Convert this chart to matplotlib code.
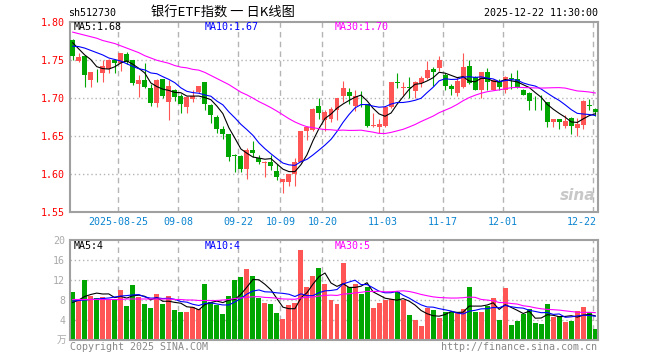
import numpy as np
import pandas as pd
import matplotlib
matplotlib.use('Agg')
import matplotlib.pyplot as plt

# 日K数据 (2025-08-13 .. 2025-12-22)
opens = [1.776, 1.748, 1.754, 1.723, 1.734, 1.7325, 1.738, 1.750, 1.745, 1.757,
         1.750, 1.718, 1.723, 1.713, 1.693, 1.724, 1.694, 1.7105, 1.7017, 1.687,
         1.6986, 1.7074, 1.720, 1.690, 1.675, 1.659, 1.652, 1.6237, 1.623, 1.606,
         1.631, 1.621, 1.614, 1.615, 1.6035, 1.589, 1.589, 1.599, 1.615, 1.6557,
         1.657, 1.689, 1.670, 1.672, 1.683, 1.702, 1.7075, 1.689, 1.6996, 1.691,
         1.6627, 1.6614, 1.6627, 1.687, 1.720, 1.7126, 1.7135, 1.708, 1.7195, 1.7255,
         1.737, 1.739, 1.7294, 1.7149, 1.7053, 1.714, 1.7412, 1.7272, 1.7105, 1.7338,
         1.7105, 1.7215, 1.7105, 1.7263, 1.725, 1.7105, 1.7061, 1.6945, 1.6945, 1.6943,
         1.668, 1.6715, 1.6627, 1.6724, 1.6601, 1.6636, 1.6904, 1.6846]
highs = [1.777, 1.758, 1.755, 1.734, 1.737, 1.750, 1.751, 1.751, 1.759, 1.760,
         1.750, 1.729, 1.745, 1.718, 1.724, 1.724, 1.723, 1.711, 1.704, 1.702,
         1.7105, 1.715, 1.720, 1.691, 1.677, 1.662, 1.652, 1.6263, 1.625, 1.634,
         1.643, 1.625, 1.616, 1.624, 1.612, 1.593, 1.600, 1.621, 1.656, 1.663,
         1.686, 1.700, 1.683, 1.687, 1.700, 1.722, 1.713, 1.710, 1.709, 1.691,
         1.680, 1.672, 1.687, 1.7206, 1.7316, 1.7206, 1.7272, 1.7215, 1.728, 1.748,
         1.740, 1.755, 1.7316, 1.7184, 1.7272, 1.7588, 1.750, 1.7285, 1.7338, 1.739,
         1.7237, 1.725, 1.7285, 1.7316, 1.736, 1.7118, 1.7075, 1.7018, 1.703, 1.6943,
         1.6715, 1.6715, 1.6768, 1.6737, 1.6733, 1.6965, 1.6978, 1.6864]
lows = [1.750, 1.747, 1.714, 1.714, 1.720, 1.720, 1.732, 1.732, 1.735, 1.744,
        1.716, 1.701, 1.712, 1.689, 1.688, 1.699, 1.670, 1.696, 1.680, 1.680,
        1.694, 1.706, 1.684, 1.666, 1.653, 1.646, 1.616, 1.602, 1.602, 1.593,
        1.622, 1.612, 1.596, 1.604, 1.592, 1.574, 1.584, 1.583, 1.615, 1.644,
        1.6557, 1.672, 1.6557, 1.668, 1.670, 1.6935, 1.692, 1.6824, 1.688, 1.661,
        1.6614, 1.653, 1.6614, 1.6865, 1.7119, 1.7036, 1.700, 1.700, 1.714, 1.7237,
        1.715, 1.735, 1.7096, 1.703, 1.7022, 1.713, 1.7184, 1.7096, 1.6987, 1.7096,
        1.7096, 1.7096, 1.7061, 1.7118, 1.713, 1.703, 1.6833, 1.6833, 1.6833, 1.6614,
        1.6614, 1.6579, 1.6605, 1.6526, 1.650, 1.6579, 1.6833, 1.6754]
closes = [1.754, 1.753, 1.730, 1.733, 1.733, 1.741, 1.750, 1.745, 1.758, 1.747,
          1.719, 1.723, 1.714, 1.693, 1.723, 1.702, 1.7145, 1.701, 1.691, 1.701,
          1.7017, 1.7149, 1.691, 1.677, 1.659, 1.652, 1.622, 1.6224, 1.606, 1.631,
          1.627, 1.615, 1.615, 1.610, 1.596, 1.5925, 1.599, 1.615, 1.6557, 1.661,
          1.685, 1.679, 1.681, 1.685, 1.6995, 1.7127, 1.702, 1.7026, 1.6990, 1.662,
          1.664, 1.6645, 1.687, 1.7206, 1.7195, 1.7132, 1.713, 1.7206, 1.7255, 1.7368,
          1.734, 1.749, 1.7149, 1.711, 1.7219, 1.7404, 1.7197, 1.7105, 1.7338, 1.7206,
          1.7228, 1.714, 1.7272, 1.725, 1.714, 1.7039, 1.6956, 1.6940, 1.6938, 1.668,
          1.6715, 1.668, 1.6689, 1.6627, 1.6649, 1.6952, 1.6890, 1.6811]
# 成交量 (万)
volumes = [9.6, 8.0, 12.0, 8.8, 8.5, 8.7, 8.1, 8.3, 10.0, 6.8,
           11.0, 8.7, 7.2, 6.4, 9.2, 7.2, 8.8, 6.0, 5.6, 5.6,
           6.7, 6.3, 11.2, 7.7, 7.0, 5.2, 8.8, 12.0, 12.7, 14.2,
           12.8, 8.5, 7.5, 7.2, 5.4, 4.2, 7.0, 7.5, 18.0, 10.6,
           12.8, 14.4, 11.2, 8.0, 7.2, 15.5, 10.7, 11.2, 9.2, 10.7,
           6.4, 7.5, 8.0, 8.2, 9.7, 8.0, 5.0, 4.0, 2.8, 6.5,
           6.0, 4.5, 5.7, 5.7, 5.7, 6.2, 10.6, 5.7, 5.7, 6.8,
           8.4, 4.0, 10.4, 3.0, 3.9, 5.2, 6.3, 3.4, 3.2, 7.2,
           4.6, 4.9, 3.7, 3.9, 5.8, 6.6, 5.6, 2.2]

# 均线开头部分(窗口外的历史数据)
ma5_head = [1.772, 1.764, 1.756, 1.750]
ma10_head = [1.7675, 1.767, 1.765, 1.762, 1.759, 1.756, 1.752, 1.750, 1.748]
ma30_head = [1.786, 1.784, 1.782, 1.780, 1.778, 1.775, 1.773, 1.771, 1.768, 1.765,
             1.762, 1.759, 1.755, 1.752, 1.749, 1.747, 1.745, 1.742, 1.740, 1.739,
             1.737, 1.736, 1.733, 1.729, 1.725, 1.721, 1.717, 1.712, 1.707]
vma5_head = [7.5, 8.0, 8.7, 9.1]
vma10_head = [7.8, 7.9, 8.0, 8.1, 8.2, 8.3, 8.4, 8.6, 8.8]
vma30_head = [8.1, 8.1, 8.1, 8.1, 8.1, 8.1, 8.1, 8.1, 8.1, 8.2,
              8.2, 8.2, 8.2, 8.2, 8.2, 8.2, 8.2, 8.1, 8.1, 8.0,
              8.0, 7.9, 7.9, 7.9, 7.9, 8.0, 8.1, 8.3, 8.4]

date_idx = [8, 18, 28, 35, 42, 52, 62, 72, 87]
date_labels = ['2025-08-25', '09-08', '09-22', '10-09', '10-20', '11-03', '11-17', '12-01', '12-22']
price_ticks = [1.55, 1.60, 1.65, 1.70, 1.75, 1.80]
vol_ticks = [4, 8, 12, 16, 20]

RED = '#ff5555'
GREEN = '#00a600'
MONO = 'DejaVu Sans Mono'
CJK = ['Noto Sans CJK SC', 'DejaVu Sans']


def ma(values, n, head):
    s = pd.Series(values).rolling(n).mean()
    s.iloc[:len(head)] = head
    return s


o = np.array(opens)
c = np.array(closes)
x = np.arange(len(c))
cols = np.where(c >= o, RED, GREEN)

fig = plt.figure(figsize=(6.6, 3.6), dpi=100)
W, H = 660.0, 360.0
ax = fig.add_axes([70 / W, 1 - 211.5 / H, 528 / W, 190 / H])
axv = fig.add_axes([70 / W, 1 - 340 / H, 528 / W, 100 / H])

grid_c = '#b4b4b4'
for a in (ax, axv):
    a.set_xlim(-0.45, len(c) - 0.55)
    for sp in a.spines.values():
        sp.set_color('#a0a0a0')
        sp.set_linewidth(1.5)
    a.tick_params(length=0)
    a.set_xticks([])
    for i in date_idx:
        a.axvline(i - 0.42, color=grid_c, lw=1, ls=(0, (4, 3)), zorder=0)

# K线
ax.vlines(x, lows, highs, colors=cols, lw=0.8, zorder=2)
ax.bar(x, np.maximum(np.abs(c - o), 0.0005), bottom=np.minimum(o, c), width=0.83,
       color=cols, linewidth=0, zorder=3)
ax.plot(x, ma(closes, 5, ma5_head), color='black', lw=0.8, zorder=4)
ax.plot(x, ma(closes, 10, ma10_head), color='#0000ff', lw=0.8, zorder=4)
ax.plot(x, ma(closes, 30, ma30_head), color='#ff00ff', lw=0.8, zorder=4)
ax.set_ylim(1.55, 1.80)
ax.set_yticks(price_ticks)
ax.set_yticklabels(['%.2f' % t for t in price_ticks], color='#ff0000',
                   fontfamily=MONO, fontsize=7.2)
for t in price_ticks[1:-1]:
    ax.axhline(t, color=grid_c, lw=1, ls=(0, (1, 2)), zorder=0)
for i, lab in zip(date_idx, date_labels):
    ha = 'right' if i == date_idx[-1] else 'center'
    xx = len(c) - 0.8 if i == date_idx[-1] else i - 0.42
    ax.text(xx, -0.053, lab, transform=ax.get_xaxis_transform(), ha=ha, va='center',
            color='#0a84d0', fontfamily=MONO, fontsize=7.2)

# 成交量
axv.bar(x, volumes, width=0.83, color=cols, linewidth=0, zorder=2)
axv.plot(x, ma(volumes, 5, vma5_head), color='black', lw=0.8, zorder=3)
axv.plot(x, ma(volumes, 10, vma10_head), color='#0000ff', lw=0.8, zorder=3)
axv.plot(x, ma(volumes, 30, vma30_head), color='#ff00ff', lw=0.8, zorder=3)
axv.set_ylim(0, 20)
axv.set_yticks(vol_ticks)
axv.set_yticklabels([str(t) for t in vol_ticks], color='#aaaaaa',
                    fontfamily=MONO, fontsize=7.2)
for t in vol_ticks[:-1]:
    axv.axhline(t, color=grid_c, lw=1, ls=(0, (1, 2)), zorder=0)


def ftext(px, py, s, **kw):
    fig.text(px / W, 1 - py / H, s, va='center', **kw)


ftext(68, 13, 'sh512730', fontfamily=MONO, fontsize=7.2)
ftext(151, 13, '银行ETF指数 一 日K线图', fontfamily=CJK, fontsize=9.5)
ftext(598, 13, '2025-12-22 11:30:00', ha='right', fontfamily=MONO, fontsize=7.2)
ftext(74, 27, 'MA5:1.68', fontfamily=MONO, fontsize=7.2)
ftext(205, 27, 'MA10:1.67', color='#0000ff', fontfamily=MONO, fontsize=7.2)
ftext(335, 27, 'MA30:1.70', color='#ff00ff', fontfamily=MONO, fontsize=7.2)
ftext(74, 246, 'MA5:4', fontfamily=MONO, fontsize=7.2)
ftext(205, 246, 'MA10:4', color='#0000ff', fontfamily=MONO, fontsize=7.2)
ftext(335, 246, 'MA30:5', color='#ff00ff', fontfamily=MONO, fontsize=7.2)
ftext(66, 340, '万', ha='right', color='#aaaaaa', fontfamily=CJK, fontsize=7)
ftext(70, 347, 'Copyright 2025 SINA.COM', color='#888888', fontfamily=MONO, fontsize=7.2)
ftext(597, 347, 'http://finance.sina.com.cn', ha='right', color='#888888',
      fontfamily=MONO, fontsize=7.2)
ftext(595, 196, 'sina', ha='right', color='#c8c8c8', fontsize=11,
      fontstyle='italic', fontweight='bold')

fig.savefig('out.png', dpi=100)
